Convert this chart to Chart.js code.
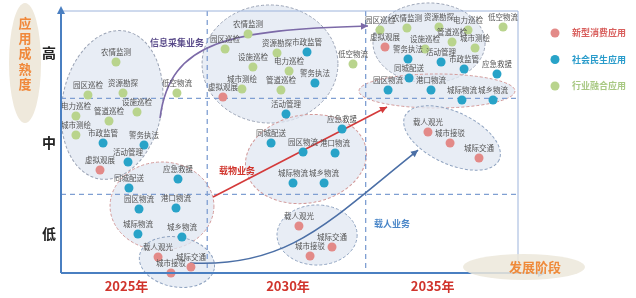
<!DOCTYPE html>
<html>
<head>
<meta charset="utf-8">
<script src="https://cdn.jsdelivr.net/npm/chart.js@4"></script>
<style>
html,body{margin:0;padding:0;background:#fff;}
#wrap{width:636px;height:298px;position:relative;}
</style>
</head>
<body>
<div id="wrap"><canvas id="c"></canvas></div>
<script>
// 横轴：发展阶段（0~3，每个阶段一格），纵轴：应用成熟度（0~3）
const stageLabels = ['2025年', '2030年', '2035年'];
const stageTicks = [0.43, 1.49, 2.44];
const stageBounds = [0.96, 2.0];
const maturityLabels = ['低', '中', '高'];
const maturityTicks = [0.45, 1.49, 2.52];
const maturityBounds = [0.9, 2.0];

// 新型消费应用
const consumerNames = ['虚拟观展', '载人观光', '城际交通', '城市接驳',
  '虚拟观展', '载人观光', '城际交通', '城市接驳',
  '虚拟观展', '载人观光', '城市接驳', '城际交通'];
const consumerX = [0.256, 0.637, 0.853, 0.722, 1.063, 1.562, 1.779, 1.635, 2.127, 2.409, 2.554, 2.744];
const consumerY = [1.179, 0.183, 0.069, 0.0, 2.015, 0.538, 0.298, 0.195, 2.588, 1.615, 1.489, 1.317];

// 社会民生应用
const socialNames = ['市政监管', '警务执法', '活动管理', '应急救援', '同城配送', '园区物流', '港口物流', '城际物流', '城乡物流',
  '市政监管', '警务执法', '活动管理', '应急救援', '同城配送', '园区物流', '港口物流', '城际物流', '城乡物流',
  '警务执法', '活动管理', '市政监管', '应急救援', '同城配送', '园区物流', '港口物流', '城际物流', '城乡物流'];
const socialX = [0.276, 0.545, 0.440, 0.768, 0.446, 0.512, 0.755, 0.505, 0.794,
  1.615, 1.667, 1.477, 1.845, 1.379, 1.589, 1.799, 1.523, 1.727,
  2.278, 2.495, 2.646, 2.862, 2.285, 2.147, 2.429, 2.632, 2.836];
const socialY = [1.489, 1.466, 1.271, 1.076, 0.973, 0.733, 0.744, 0.447, 0.412,
  2.531, 2.176, 1.821, 1.649, 1.489, 1.386, 1.374, 1.031, 1.031,
  2.450, 2.416, 2.336, 2.279, 2.233, 2.095, 2.095, 1.981, 1.981];

// 行业融合应用
const industryNames = ['农情监测', '园区巡检', '资源勘探', '低空物流', '设施巡检', '电力巡检', '管道巡检', '城市测绘',
  '农情监测', '园区巡检', '资源勘探', '设施巡检', '电力巡检', '低空物流', '城市测绘', '管道巡检',
  '园区巡检', '农情监测', '资源勘探', '电力巡检', '低空物流', '设施巡检', '管道巡检', '城市测绘'];
const industryX = [0.361, 0.177, 0.407, 0.761, 0.499, 0.098, 0.315, 0.098,
  1.228, 1.077, 1.418, 1.260, 1.497, 1.917, 1.188, 1.444,
  2.094, 2.271, 2.481, 2.672, 2.902, 2.390, 2.567, 2.718];
const industryY = [2.416, 2.038, 2.061, 2.061, 1.844, 1.798, 1.741, 1.580,
  2.737, 2.565, 2.519, 2.359, 2.313, 2.393, 2.107, 2.095,
  2.783, 2.805, 2.817, 2.783, 2.817, 2.565, 2.645, 2.576];

const seriesNames = ['新型消费应用', '社会民生应用', '行业融合应用'];
const seriesColors = ['#e38a88', '#28a3c8', '#b9d48d'];
const legendColors = ['#d9605e', '#2a9ccb', '#a9c984'];

function toPoints(names, xs, ys) {
  return names.map((n, i) => ({ x: xs[i], y: ys[i], name: n }));
}

// 分组椭圆（数据坐标）
const groups = [
  { x: 0.335, y: 1.924, rx: 0.328, ry: 0.859, rot: 10, stroke: '#9aa3b5' },
  { x: 0.663, y: 0.767, rx: 0.341, ry: 0.504, rot: 0, stroke: '#d39a9a' },
  { x: 0.761, y: 0.126, rx: 0.249, ry: 0.286, rot: 10, stroke: '#8fa3c0' },
  { x: 1.372, y: 2.393, rx: 0.446, ry: 0.676, rot: 0, stroke: '#9aa3b5' },
  { x: 1.608, y: 1.305, rx: 0.400, ry: 0.504, rot: -10, stroke: '#d39a9a' },
  { x: 1.681, y: 0.435, rx: 0.263, ry: 0.344, rot: 0, stroke: '#8fa3c0' },
  { x: 2.416, y: 2.634, rx: 0.368, ry: 0.458, rot: 0, stroke: '#9aa3b5' },
  { x: 2.468, y: 2.084, rx: 0.512, ry: 0.195, rot: 0, stroke: '#d39a9a' },
  { x: 2.567, y: 1.546, rx: 0.341, ry: 0.298, rot: 25, stroke: '#8fa3c0' }
];

const diagramPlugin = {
  id: 'diagram',
  beforeDatasetsDraw(chart) {
    const { ctx, chartArea: a, scales: { x: xs, y: ys } } = chart;
    const px = v => xs.getPixelForValue(v);
    const py = v => ys.getPixelForValue(v);
    const ux = Math.abs(px(1) - px(0));
    const uy = Math.abs(py(1) - py(0));
    ctx.save();

    // 分组椭圆
    groups.forEach(g => {
      ctx.save();
      ctx.translate(px(g.x), py(g.y));
      ctx.rotate(g.rot * Math.PI / 180);
      ctx.beginPath();
      ctx.ellipse(0, 0, g.rx * ux, g.ry * uy, 0, 0, Math.PI * 2);
      ctx.fillStyle = 'rgba(224,231,242,0.75)';
      ctx.fill();
      ctx.setLineDash([3, 2]);
      ctx.lineWidth = 1;
      ctx.strokeStyle = g.stroke;
      ctx.stroke();
      ctx.restore();
    });

    // 分隔虚线
    ctx.setLineDash([5, 4]);
    ctx.lineWidth = 1.3;
    ctx.strokeStyle = '#7f9fd2';
    stageBounds.forEach(v => {
      ctx.beginPath(); ctx.moveTo(px(v), a.top); ctx.lineTo(px(v), a.bottom); ctx.stroke();
    });
    maturityBounds.forEach(v => {
      ctx.beginPath(); ctx.moveTo(a.left, py(v)); ctx.lineTo(a.right, py(v)); ctx.stroke();
    });
    ctx.setLineDash([]);

    // 业务发展曲线
    function arrowHead(x, y, ang, color) {
      ctx.save();
      ctx.translate(x, y); ctx.rotate(ang);
      ctx.beginPath(); ctx.moveTo(0, 0); ctx.lineTo(-7, -3.5); ctx.lineTo(-7, 3.5); ctx.closePath();
      ctx.fillStyle = color; ctx.fill();
      ctx.restore();
    }
    function bez(p, color) {
      ctx.beginPath();
      ctx.moveTo(px(p[0][0]), py(p[0][1]));
      ctx.bezierCurveTo(px(p[1][0]), py(p[1][1]), px(p[2][0]), py(p[2][1]), px(p[3][0]), py(p[3][1]));
      ctx.strokeStyle = color; ctx.lineWidth = 1.6; ctx.stroke();
      const ang = Math.atan2(py(p[3][1]) - py(p[2][1]), px(p[3][0]) - px(p[2][0]));
      arrowHead(px(p[3][0]), py(p[3][1]), ang, color);
    }
    bez([[0.650, 1.775], [0.716, 2.668], [1.109, 2.783], [2.015, 2.828]], '#7c6aa8');
    bez([[0.847, 0.115], [1.503, 0.057], [1.766, 0.607], [2.344, 1.408]], '#4b6fa6');
    const r0 = [0.998, 0.870], r1 = [2.140, 1.901];
    ctx.beginPath(); ctx.moveTo(px(r0[0]), py(r0[1])); ctx.lineTo(px(r1[0]), py(r1[1]));
    ctx.strokeStyle = '#d43a3a'; ctx.lineWidth = 1.6; ctx.stroke();
    arrowHead(px(r1[0]), py(r1[1]), Math.atan2(py(r1[1]) - py(r0[1]), px(r1[0]) - px(r0[0])), '#d43a3a');

    ctx.font = 'bold 9px "Noto Sans CJK SC"';
    ctx.textAlign = 'center'; ctx.textBaseline = 'middle';
    ctx.fillStyle = '#5a4b8a'; ctx.fillText('信息采集业务', px(0.761), py(2.634));
    ctx.fillStyle = '#d0342c'; ctx.fillText('载物业务', px(1.155), py(1.168));
    ctx.fillStyle = '#4a86c8'; ctx.fillText('载人业务', px(2.173), py(0.561));
    ctx.restore();
  },
  afterDatasetsDraw(chart) {
    const { ctx, chartArea: a, scales: { x: xs, y: ys } } = chart;
    ctx.save();

    // 点标签
    ctx.font = '7.5px "Noto Sans CJK SC"';
    ctx.fillStyle = '#555';
    ctx.textAlign = 'center'; ctx.textBaseline = 'middle';
    chart.data.datasets.forEach((ds, i) => {
      const meta = chart.getDatasetMeta(i);
      meta.data.forEach((pt, j) => {
        ctx.fillText(ds.data[j].name, pt.x, pt.y - 10);
      });
    });

    // 坐标轴
    ctx.strokeStyle = '#9db4dc'; ctx.lineWidth = 1;
    ctx.beginPath(); ctx.moveTo(a.left, a.top); ctx.lineTo(a.right, a.top); ctx.lineTo(a.right, a.bottom); ctx.stroke();
    ctx.strokeStyle = '#4a7fc1'; ctx.fillStyle = '#4a7fc1'; ctx.lineWidth = 2;
    ctx.beginPath(); ctx.moveTo(a.left, a.bottom); ctx.lineTo(a.right + 22, a.bottom); ctx.stroke();
    ctx.beginPath(); ctx.moveTo(a.right + 28, a.bottom); ctx.lineTo(a.right + 20, a.bottom - 4); ctx.lineTo(a.right + 20, a.bottom + 4); ctx.closePath(); ctx.fill();
    ctx.beginPath(); ctx.moveTo(a.left, a.bottom); ctx.lineTo(a.left, a.top - 1); ctx.stroke();
    ctx.beginPath(); ctx.moveTo(a.left, a.top - 5); ctx.lineTo(a.left - 4, a.top + 3); ctx.lineTo(a.left + 4, a.top + 3); ctx.closePath(); ctx.fill();

    // 刻度文字
    ctx.font = 'bold 13px "Noto Sans CJK SC"';
    ctx.fillStyle = '#d0342c';
    stageLabels.forEach((t, i) => ctx.fillText(t, xs.getPixelForValue(stageTicks[i]), a.bottom + 13));
    ctx.font = 'bold 14px "Noto Sans CJK SC"';
    ctx.fillStyle = '#222';
    maturityLabels.forEach((t, i) => ctx.fillText(t, a.left - 12, ys.getPixelForValue(maturityTicks[i])));

    // 纵轴标题
    ctx.beginPath(); ctx.ellipse(a.left - 36, a.top + 52, 16, 60, 0, 0, Math.PI * 2);
    ctx.fillStyle = '#efe9dc'; ctx.fill();
    ctx.font = 'bold 13px "Noto Sans CJK SC"';
    ctx.fillStyle = '#f0883a';
    '应用成熟度'.split('').forEach((ch, i) => ctx.fillText(ch, a.left - 36, a.top + 12 + i * 15.2));

    // 横轴标题
    ctx.beginPath(); ctx.ellipse(a.right + 6, a.bottom - 6, 61, 13, 0, 0, Math.PI * 2);
    ctx.fillStyle = 'rgba(236,232,218,0.85)'; ctx.fill();
    ctx.font = 'bold 13px "Noto Sans CJK SC"';
    ctx.fillStyle = '#ef8a3a';
    ctx.fillText('发展阶段', a.right + 17, a.bottom - 6);

    // 图例
    ctx.font = 'bold 9px "Noto Sans CJK SC"';
    ctx.textAlign = 'left';
    seriesNames.forEach((n, i) => {
      const ly = 33 + i * 26.5;
      ctx.beginPath(); ctx.arc(a.right + 37, ly, 4.5, 0, Math.PI * 2);
      ctx.fillStyle = seriesColors[i]; ctx.fill();
      ctx.fillStyle = legendColors[i];
      ctx.fillText(n, a.right + 54, ly);
    });
    ctx.restore();
  }
};

new Chart(document.getElementById('c'), {
  type: 'scatter',
  data: {
    datasets: [
      { label: seriesNames[0], data: toPoints(consumerNames, consumerX, consumerY), backgroundColor: seriesColors[0] },
      { label: seriesNames[1], data: toPoints(socialNames, socialX, socialY), backgroundColor: seriesColors[1] },
      { label: seriesNames[2], data: toPoints(industryNames, industryX, industryY), backgroundColor: seriesColors[2] }
    ]
  },
  options: {
    responsive: true,
    maintainAspectRatio: false,
    animation: false,
    clip: false,
    elements: { point: { radius: 4.5, borderWidth: 0, hoverRadius: 4.5 } },
    layout: { padding: { left: 61, right: 118, top: 11, bottom: 25 } },
    scales: {
      x: { type: 'linear', min: 0, max: 3, display: false },
      y: { type: 'linear', min: 0, max: 3, display: false }
    },
    plugins: { legend: { display: false }, tooltip: { enabled: false } }
  },
  plugins: [diagramPlugin]
});
</script>
</body>
</html>
